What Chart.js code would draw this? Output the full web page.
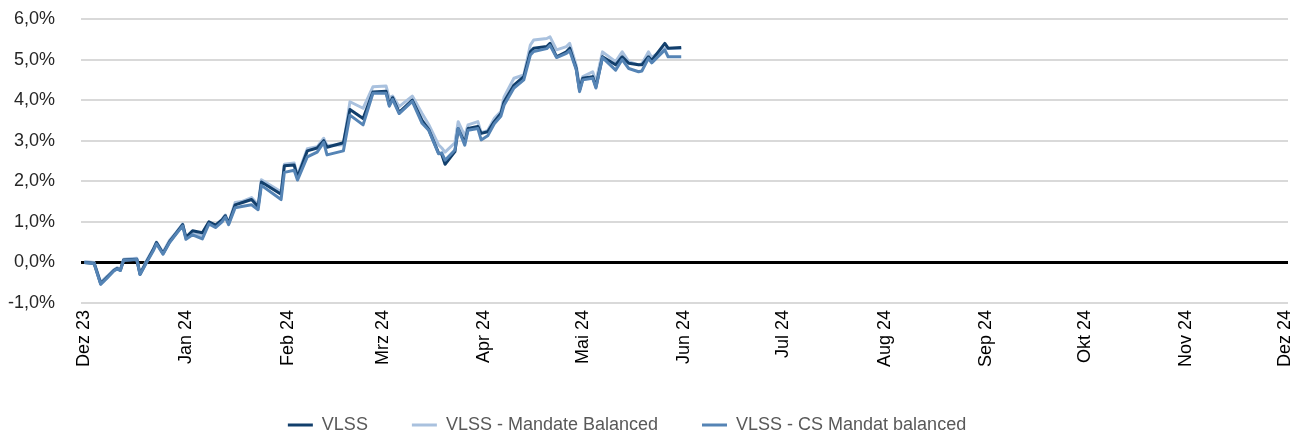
<!DOCTYPE html>
<html>
<head>
<meta charset="utf-8">
<script src="https://cdn.jsdelivr.net/npm/chart.js@4.4.1/dist/chart.umd.min.js"></script>
<style>
  html, body { margin: 0; padding: 0; background: #fff; }
  #wrap { width: 1290px; height: 434px; }
</style>
</head>
<body>
<div id="wrap"><canvas id="myChart" width="1290" height="434"></canvas></div>
<script>
// reading dates (start of series = Dez 23)
const dates = [
    '2023-12-01', '2023-12-04', '2023-12-06', '2023-12-08', '2023-12-10', '2023-12-11', '2023-12-12', '2023-12-13',
    '2023-12-17', '2023-12-18', '2023-12-20', '2023-12-22', '2023-12-23', '2023-12-25', '2023-12-27', '2023-12-29',
    '2023-12-31', '2024-01-01', '2024-01-03', '2024-01-06', '2024-01-08', '2024-01-10', '2024-01-12', '2024-01-13',
    '2024-01-14', '2024-01-16', '2024-01-18', '2024-01-21', '2024-01-23', '2024-01-24', '2024-01-30', '2024-01-31',
    '2024-02-03', '2024-02-04', '2024-02-07', '2024-02-10', '2024-02-12', '2024-02-13', '2024-02-18', '2024-02-20',
    '2024-02-24', '2024-02-27', '2024-03-02', '2024-03-03', '2024-03-04', '2024-03-06', '2024-03-10', '2024-03-13',
    '2024-03-15', '2024-03-18', '2024-03-19', '2024-03-20', '2024-03-23', '2024-03-24', '2024-03-26', '2024-03-27',
    '2024-03-30', '2024-03-31', '2024-04-02', '2024-04-04', '2024-04-06', '2024-04-07', '2024-04-10', '2024-04-13',
    '2024-04-15', '2024-04-16', '2024-04-20', '2024-04-21', '2024-04-23', '2024-04-26', '2024-04-27', '2024-04-29',
    '2024-04-30', '2024-05-01', '2024-05-04', '2024-05-05', '2024-05-07', '2024-05-11', '2024-05-13', '2024-05-15',
    '2024-05-18', '2024-05-19', '2024-05-21', '2024-05-22', '2024-05-26', '2024-05-27', '2024-05-31'
];

const vlss = [
    0.00, -0.02, -0.52, -0.36, -0.20, -0.15, -0.19, 0.06,
    0.08, -0.29, 0.02, 0.31, 0.49, 0.22, 0.51, 0.72,
    0.93, 0.62, 0.78, 0.73, 1.00, 0.92, 1.05, 1.15,
    0.96, 1.42, 1.47, 1.55, 1.37, 1.98, 1.68, 2.38,
    2.40, 2.10, 2.75, 2.82, 3.00, 2.84, 2.95, 3.77,
    3.55, 4.20, 4.22, 3.88, 4.06, 3.70, 4.00, 3.50,
    3.28, 2.70, 2.66, 2.42, 2.73, 3.30, 2.95, 3.30,
    3.35, 3.18, 3.22, 3.47, 3.67, 3.96, 4.37, 4.58,
    5.19, 5.28, 5.32, 5.40, 5.07, 5.19, 5.28, 4.78,
    4.25, 4.54, 4.58, 4.33, 5.07, 4.87, 5.07, 4.91,
    4.87, 4.87, 5.07, 4.98, 5.40, 5.28, 5.30
];

const mandateBalanced = [
    0.02, 0.00, -0.49, -0.34, -0.18, -0.13, -0.17, 0.08,
    0.10, -0.27, 0.05, 0.33, 0.50, 0.25, 0.55, 0.74,
    0.95, 0.60, 0.72, 0.65, 0.98, 0.90, 1.06, 1.17,
    0.97, 1.48, 1.50, 1.60, 1.42, 2.04, 1.74, 2.42,
    2.45, 2.15, 2.80, 2.85, 3.06, 2.88, 2.90, 3.96,
    3.80, 4.33, 4.35, 4.05, 4.10, 3.84, 4.10, 3.67,
    3.40, 2.90, 2.82, 2.72, 2.95, 3.47, 3.12, 3.39,
    3.47, 3.20, 3.25, 3.55, 3.72, 4.08, 4.54, 4.62,
    5.36, 5.48, 5.52, 5.56, 5.24, 5.32, 5.40, 4.85,
    4.35, 4.58, 4.70, 4.45, 5.19, 4.95, 5.19, 4.95,
    4.87, 4.90, 5.19, 5.05, 5.28, 5.27, 5.27
];

const csMandat = [
    0.00, -0.03, -0.54, -0.38, -0.21, -0.16, -0.20, 0.05,
    0.07, -0.30, 0.00, 0.28, 0.46, 0.20, 0.49, 0.70,
    0.90, 0.57, 0.68, 0.58, 0.95, 0.86, 1.00, 1.12,
    0.93, 1.35, 1.38, 1.42, 1.30, 1.90, 1.55, 2.22,
    2.27, 2.03, 2.60, 2.72, 2.96, 2.65, 2.75, 3.63,
    3.39, 4.17, 4.17, 3.85, 4.02, 3.67, 3.97, 3.43,
    3.26, 2.68, 2.70, 2.52, 2.77, 3.30, 2.89, 3.26,
    3.30, 3.02, 3.12, 3.42, 3.60, 3.88, 4.30, 4.50,
    5.11, 5.20, 5.27, 5.35, 5.05, 5.15, 5.22, 4.75,
    4.21, 4.50, 4.54, 4.30, 5.05, 4.74, 5.00, 4.78,
    4.70, 4.72, 5.03, 4.92, 5.24, 5.07, 5.07
];

const monthStarts = [
    '2023-12-01', '2024-01-01', '2024-02-01', '2024-03-01', '2024-04-01', '2024-05-01', '2024-06-01',
    '2024-07-01', '2024-08-01', '2024-09-01', '2024-10-01', '2024-11-01', '2024-12-01'
];
const monthLabels = ['Dez 23', 'Jan 24', 'Feb 24', 'Mrz 24', 'Apr 24', 'Mai 24', 'Jun 24',
    'Jul 24', 'Aug 24', 'Sep 24', 'Okt 24', 'Nov 24', 'Dez 24'];

const yTicks = [-1, 0, 1, 2, 3, 4, 5, 6];

const seriesNames = ['VLSS', 'VLSS - Mandate Balanced', 'VLSS - CS Mandat balanced'];

// days since the first month start
const dayOf = (s) => (Date.parse(s + 'T00:00:00Z') - Date.parse(monthStarts[0] + 'T00:00:00Z')) / 86400000;
const monthDays = monthStarts.map(dayOf);
const toPoints = (arr) => arr.map((v, i) => ({ x: dayOf(dates[i]), y: v }));

const font = "'Liberation Sans', Arial, sans-serif";

// legend in the original sits a bit left of the canvas centre
const legendShift = {
    id: 'legendShift',
    beforeDraw: function(chart) {
        const lg = chart.legend;
        if (!lg || lg._shifted) return;
        lg.left -= 17;
        lg.right -= 17;
        lg._shifted = true;
    }
};

const ctx = document.getElementById('myChart').getContext('2d');

const myChart = new Chart(ctx, {
    type: 'line',
    data: {
        datasets: [{
            label: seriesNames[0],
            data: toPoints(vlss),
            borderColor: '#123f6c',
            backgroundColor: '#123f6c',
            borderWidth: 3,
            order: 1
        }, {
            label: seriesNames[1],
            data: toPoints(mandateBalanced),
            borderColor: '#a9c1de',
            backgroundColor: '#a9c1de',
            borderWidth: 3,
            order: 2
        }, {
            label: seriesNames[2],
            data: toPoints(csMandat),
            borderColor: '#5584b5',
            backgroundColor: '#5584b5',
            borderWidth: 3,
            order: 0
        }]
    },
    plugins: [legendShift],
    options: {
        responsive: false,
        animation: false,
        elements: {
            line: { tension: 0, borderJoinStyle: 'round' },
            point: { radius: 0, hoverRadius: 0 }
        },
        layout: {
            padding: { top: 19, right: 2, left: 0, bottom: -10 }
        },
        scales: {
            x: {
                type: 'linear',
                min: -1,
                max: 367,
                grid: { display: false, drawTicks: false },
                border: { display: false },
                afterBuildTicks: function(scale) {
                    scale.ticks = monthDays.map(v => ({ value: v }));
                },
                afterFit: function(scale) {
                    scale.height = 69;
                    scale.paddingLeft = 0;
                    scale.paddingRight = 0;
                },
                ticks: {
                    autoSkip: false,
                    maxRotation: 90,
                    minRotation: 90,
                    padding: 7,
                    color: '#000',
                    font: { family: font, size: 18 },
                    callback: function(value, index) {
                        return monthLabels[index];
                    }
                }
            },
            y: {
                min: -1,
                max: 6,
                afterBuildTicks: function(scale) {
                    scale.ticks = yTicks.map(v => ({ value: v }));
                },
                afterFit: function(scale) {
                    scale.width = 81;
                    scale.paddingTop = 0;
                    scale.paddingBottom = 0;
                },
                grid: {
                    drawTicks: false,
                    color: function(c) {
                        return c.tick && c.tick.value === 0 ? '#000000' : '#d9d9d9';
                    },
                    lineWidth: function(c) {
                        return c.tick && c.tick.value === 0 ? 3 : 2;
                    }
                },
                border: { display: false },
                ticks: {
                    padding: 26,
                    color: '#262626',
                    font: { family: font, size: 18 },
                    callback: function(value) {
                        return value.toFixed(1).replace('.', ',') + '%';
                    }
                }
            }
        },
        plugins: {
            legend: {
                position: 'bottom',
                labels: {
                    usePointStyle: true,
                    pointStyle: 'line',
                    pointStyleWidth: 25,
                    padding: 44,
                    color: '#595959',
                    font: { family: font, size: 18 },
                    sort: function(a, b) {
                        return a.datasetIndex - b.datasetIndex;
                    }
                }
            },
            tooltip: { enabled: false }
        }
    }
});
</script>
</body>
</html>
